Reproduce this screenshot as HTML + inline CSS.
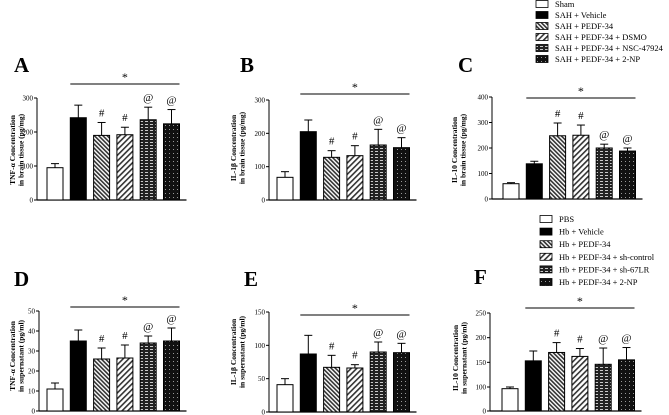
<!DOCTYPE html>
<html><head><meta charset="utf-8"><style>
body{margin:0;background:#fff;}
svg{display:block;font-family:"Liberation Serif",serif;}
</style></head><body>
<svg id="fig" width="669" height="415" viewBox="0 0 669 415">
<defs>
<pattern id="p3" patternUnits="userSpaceOnUse" width="3" height="3" patternTransform="rotate(-45)"><rect width="3" height="3" fill="#fff"/><rect width="1.6" height="3" fill="#333"/></pattern>
<pattern id="p4" patternUnits="userSpaceOnUse" width="4" height="4" patternTransform="rotate(45)"><rect width="4" height="4" fill="#fff"/><rect width="1.6" height="4" fill="#333"/></pattern>
<pattern id="p5" patternUnits="userSpaceOnUse" width="5" height="3"><rect width="5" height="3" fill="#222"/><rect y="1" width="3" height="0.9" fill="#ddd"/></pattern>
<pattern id="p6" patternUnits="userSpaceOnUse" width="4" height="4"><rect width="4" height="4" fill="#111"/><rect x="1" y="1" width="1" height="1" fill="#999"/></pattern>
</defs>
<g id="legends"></g>
<g id="panels"></g>
</svg>
<script>
const legendTop = ["Sham","SAH + Vehicle","SAH + PEDF-34","SAH + PEDF-34 + DSMO","SAH + PEDF-34 + NSC-47924","SAH + PEDF-34 + 2-NP"];
const legendBottom = ["PBS","Hb + Vehicle","Hb + PEDF-34","Hb + PEDF-34 + sh-control","Hb + PEDF-34 + sh-67LR","Hb + PEDF-34 + 2-NP"];
const marks = ["","","#","#","@","@"];

const aValues = [95,242,190,192,236,224];
const aErrors = [12,37,38,22,37,42];
const aTicks = [0,100,200,300];
const bValues = [68,205,128,133,165,157];
const bErrors = [17,35,20,30,47,30];
const bTicks = [0,100,200,300];
const cValues = [60,138,248,250,200,188];
const cErrors = [4,10,50,40,15,12];
const cTicks = [0,100,200,300,400];
const dValues = [11,35,26,26.5,34,35];
const dErrors = [3,5.5,5.5,6.5,3.5,6.5];
const dTicks = [0,10,20,30,40,50];
const eValues = [41,87,67,66,90,89];
const eErrors = [9,28,18,5,15,14];
const eTicks = [0,50,100,150];
const fValues = [93,153,170,162,146,155];
const fErrors = [7,20,20,16,33,25];
const fTicks = [0,100,150,200,250];

const NS="http://www.w3.org/2000/svg";
const fills=["#fff","#000","url(#p3)","url(#p4)","url(#p5)","url(#p6)"];
function mk(tag,attrs,parent,text){const e=document.createElementNS(NS,tag);for(const k in attrs)e.setAttribute(k,attrs[k]);if(text!==undefined)e.textContent=text;parent.appendChild(e);return e;}

function legend(items,x,y0,dy){
  const g=document.getElementById('legends');
  items.forEach((t,i)=>{
    const y=y0+i*dy;
    const r=mk('rect',{x:x,y:y-3.5,width:12,height:7,fill:fills[i],stroke:'#000','stroke-width':0.8},g);
    
    
    const tx=mk('text',{x:x+19,y:y+3,'font-size':8.5},g,t);
    
    
  });
}
legend(legendTop,536,4,11);
legend(legendBottom,540,219,12.6);

function panel(p){
  const g=mk('g',{},document.getElementById('panels'));
  
  
  const L=mk('text',{x:p.lx,y:p.ly,'font-size':21,'font-weight':'bold'},g,p.letter);
  
  
  const xc=i=>p.x0+i*23.3;
  const endX=xc(5)+15;
  mk('line',{x1:p.ax,y1:p.yscale(p.ticks[p.ticks.length-1]),x2:p.ax,y2:p.yscale(0)+0.5,stroke:'#000','stroke-width':1},g);
  const xa=mk('line',{x1:p.ax,y1:p.yscale(0),x2:endX,y2:p.yscale(0),stroke:'#000','stroke-width':1.2},g);
  
  
  p.ticks.forEach(t=>{
    const y=p.yscale(t);
    mk('line',{x1:p.ax-3,y1:y,x2:p.ax,y2:y,stroke:'#000','stroke-width':1},g);
    const tl=mk('text',{x:p.ax-4,y:y+2.5,'font-size':7,'text-anchor':'end'},g,t);
    
    
  });
  const tt=mk('text',{transform:`translate(${p.tx},${p.ty}) rotate(-90)`,'font-size':7.5,'font-weight':'bold','text-anchor':'middle'},g);
  
  
  mk('tspan',{x:0,y:0},tt,p.t1);
  mk('tspan',{x:0,y:8.5},tt,p.t2);
  p.values.forEach((v,i)=>{
    const x=xc(i), y=p.yscale(v), y0=p.yscale(0), ye=p.yscale(v+p.errors[i]);
    const b=mk('rect',{x:x-8,y:y,width:16,height:y0-y,fill:fills[i],stroke:'#000','stroke-width':1},g);
    
    
    mk('line',{x1:x,y1:y,x2:x,y2:ye,stroke:'#000','stroke-width':1},g);
    mk('line',{x1:x-4,y1:ye,x2:x+4,y2:ye,stroke:'#000','stroke-width':1},g);
    if(marks[i]){
      const m=mk('text',{x:x,y:ye-6,'font-size':11,'text-anchor':'middle'},g,marks[i]);
      
      
    }
  });
  mk('line',{x1:xc(1)-8,y1:p.sy,x2:xc(5)+8,y2:p.sy,stroke:'#000','stroke-width':1},g);
  const st=mk('text',{x:(xc(1)+xc(5))/2,y:p.sy-3,'font-size':12,'text-anchor':'middle'},g,'*');
  
  
}
const lin=(y0,ytop,max)=>v=>y0-(v/max)*(y0-ytop);
const fScale=v=>v<=100?411-v*0.24:387-(v-100)*(74/150);

panel({letter:'A',lx:14,ly:72,ax:37,x0:55,values:aValues,errors:aErrors,ticks:aTicks,yscale:lin(200,98,300),sy:84,tx:15,ty:150,t1:'TNF-α Concentration',t2:'in brain tissue (pg/mg)'});
panel({letter:'B',lx:240,ly:72,ax:269,x0:285,values:bValues,errors:bErrors,ticks:bTicks,yscale:lin(200,100,300),sy:94,tx:236,ty:148,t1:'IL-1β Concentration',t2:'in brain tissue (pg/mg)'});
panel({letter:'C',lx:458,ly:72,ax:492,x0:511,values:cValues,errors:cErrors,ticks:cTicks,yscale:lin(199,97,400),sy:98,tx:457,ty:150,t1:'IL-10 Concentration',t2:'in brain tissue (pg/mg)'});
panel({letter:'D',lx:14,ly:286,ax:39,x0:55,values:dValues,errors:dErrors,ticks:dTicks,yscale:lin(411,311,50),sy:307,tx:15,ty:356,t1:'TNF-α Concentration',t2:'in supernatant (pg/ml)'});
panel({letter:'E',lx:244,ly:286,ax:269,x0:285,values:eValues,errors:eErrors,ticks:eTicks,yscale:lin(412,312,150),sy:315,tx:236,ty:352,t1:'IL-1β Concentration',t2:'in supernatant (pg/ml)'});
panel({letter:'F',lx:474,ly:284,ax:490,x0:510,values:fValues,errors:fErrors,ticks:fTicks,yscale:fScale,sy:308,tx:458,ty:358,t1:'IL-10 Concentration',t2:'in supernatant (pg/ml)'});
</script>
</body></html>
